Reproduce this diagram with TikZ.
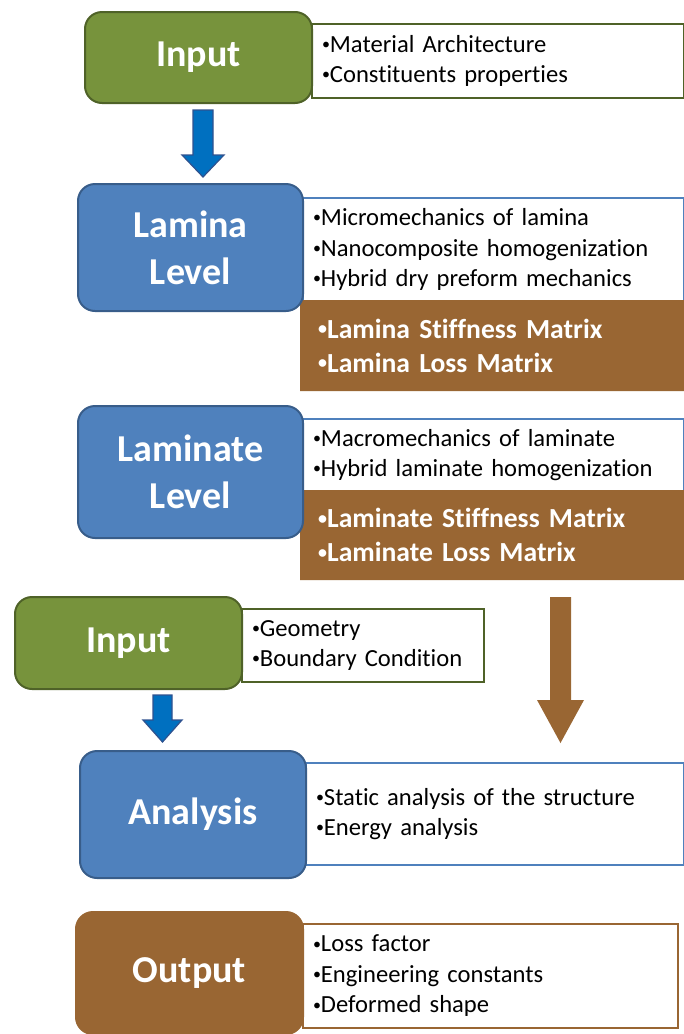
\documentclass[tikz,border=0pt]{standalone}
\usepackage{fontspec}
\setmainfont{Carlito}[Ligatures=NoCommon]
\usetikzlibrary{shapes.misc}

\definecolor{inputgreen}{HTML}{77933C}
\definecolor{inputgreenline}{HTML}{4F6228}
\definecolor{levelblue}{HTML}{4F81BD}
\definecolor{levelblueline}{HTML}{385D8A}
\definecolor{resultbrown}{HTML}{996633}
\definecolor{arrowblue}{HTML}{0070C0}
\definecolor{arrowblueline}{HTML}{2F528F}

\newcommand{\headfont}{\fontsize{38}{47}\selectfont\bfseries}
\newcommand{\listfont}{\fontsize{24.6}{30.5}\selectfont}
\newcommand{\resfont}{\fontsize{27.6}{34}\selectfont\bfseries}
\newcommand{\bul}{\raisebox{0.12em}{\scalebox{0.65}{•}}}

\tikzset{x=1pt, y=-1pt,
  stage/.style={draw, line width=2pt, rounded corners=17pt, text=white,
    font=\headfont, align=center, anchor=north west, inner sep=0pt},
  greenstage/.style={stage, fill=inputgreen, draw=inputgreenline},
  bluestage/.style={stage, fill=levelblue, draw=levelblueline},
  brownstage/.style={stage, fill=resultbrown, draw=resultbrown},
  listbox/.style={draw, line width=2pt, fill=white, anchor=north west,
    align=left, font=\listfont, inner xsep=10pt, inner ysep=0pt},
  resbox/.style={chamfered rectangle, chamfered rectangle corners=north east,
    chamfered rectangle xsep=9pt, chamfered rectangle ysep=9pt,
    fill=resultbrown, text=white, anchor=north west, align=left,
    font=\resfont, inner xsep=9pt, inner ysep=0pt},
  blockarr/.style={fill=arrowblue, draw=arrowblueline, line width=1.2pt},
  brownarr/.style={fill=resultbrown}
}

\begin{document}
\begin{tikzpicture}
  \useasboundingbox (0,0) rectangle (684,1034);

  % lists beside the stages
  \node[listbox, draw=inputgreenline, minimum width=372pt, minimum height=74pt, text width=352pt]
    (in1list) at (311,23) {\bul Material Architecture\\\bul Constituents properties};
  \node[listbox, draw=levelblue, minimum width=381pt, minimum height=103pt, text width=361pt]
    (laminalist) at (302,197) {\bul Micromechanics of lamina\\\bul Nanocomposite homogenization\\\bul Hybrid dry preform mechanics};
  \node[listbox, draw=levelblue, minimum width=381pt, minimum height=72pt, text width=361pt]
    (laminatelist) at (302,418) {\bul Macromechanics of laminate\\\bul Hybrid laminate homogenization};
  \node[listbox, draw=inputgreenline, minimum width=242pt, minimum height=73pt, text width=222pt]
    (in2list) at (241,608) {\bul Geometry\\\bul Boundary Condition};
  \node[listbox, draw=levelblue, minimum width=378pt, minimum height=102pt, text width=358pt]
    (analysislist) at (305,762) {\bul Static analysis of the structure\\\bul Energy analysis};
  \node[listbox, draw=resultbrown, minimum width=375pt, minimum height=104pt, text width=355pt]
    (outputlist) at (302,923) {\bul Loss factor\\\bul Engineering constants\\\bul Deformed shape};

  % results
  \node[resbox, minimum width=384pt, minimum height=91pt, text width=366pt]
    (laminares) at (300,300) {\bul Lamina Stiffness Matrix\\\bul Lamina Loss Matrix};
  \node[resbox, minimum width=384pt, minimum height=90pt, text width=366pt]
    (laminateres) at (300,490) {\bul Laminate Stiffness Matrix\\\bul Laminate Loss Matrix};

  % stages
  \node[greenstage, minimum width=227pt, minimum height=91pt] (in1) at (84,11) {Input};
  \node[bluestage, minimum width=225pt, minimum height=127pt] (lamina) at (77,183) {Lamina\\Level};
  \node[bluestage, minimum width=225pt, minimum height=132pt] (laminate) at (77,405) {Laminate\\Level};
  \node[greenstage, minimum width=227pt, minimum height=92pt] (in2) at (14,596) {Input};
  \node[bluestage, minimum width=226pt, minimum height=127pt] (analysis) at (79,750) {Analysis};
  \node[brownstage, minimum width=227pt, minimum height=122pt] (output) at (75,911) {Output};

  % block arrows
  \draw[blockarr] (193,110) -- (213,110) -- (213,155) -- (224,155) -- (203,177)
    -- (182,155) -- (193,155) -- cycle;
  \draw[blockarr] (153,695) -- (172,695) -- (172,720) -- (182,720) -- (162.5,742)
    -- (143,720) -- (153,720) -- cycle;
  \fill[brownarr] (550,597) -- (571,597) -- (571,700) -- (584,700) -- (560.5,743)
    -- (537,700) -- (550,700) -- cycle;
\end{tikzpicture}
\end{document}
